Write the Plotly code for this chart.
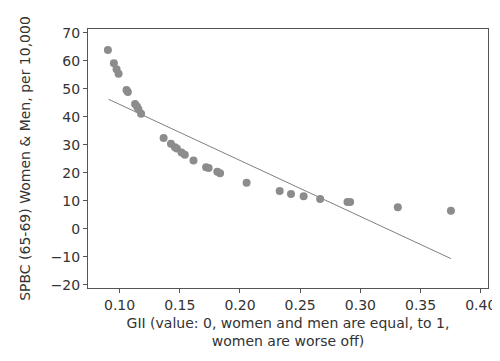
import plotly.graph_objects as go

gii = [0.0903, 0.0953, 0.0975, 0.0992, 0.1058, 0.1069, 0.1129, 0.1145, 0.1157, 0.1179,
       0.1366, 0.1427, 0.1460, 0.1476, 0.1515, 0.1542, 0.1614, 0.1719, 0.1740, 0.1812,
       0.1835, 0.2055, 0.2330, 0.2424, 0.2529, 0.2666, 0.2893, 0.2915, 0.3311, 0.3752]
spbc = [63.9, 59.2, 57.0, 55.4, 49.6, 48.9, 44.6, 43.7, 42.7, 41.1,
        32.5, 30.4, 29.2, 28.7, 27.3, 26.5, 24.4, 22.0, 21.8, 20.4,
        19.9, 16.5, 13.5, 12.5, 11.7, 10.7, 9.6, 9.6, 7.7, 6.5]

fit_x = [0.0909, 0.3752]
fit_y = [46.3, -10.6]

x_ticks = [0.10, 0.15, 0.20, 0.25, 0.30, 0.35, 0.40]
y_ticks = [-20, -10, 0, 10, 20, 30, 40, 50, 60, 70]

font = dict(family="DejaVu Sans, sans-serif", size=14, color="#333333")

fig = go.Figure()
fig.add_trace(go.Scatter(x=fit_x, y=fit_y, mode="lines",
                         line=dict(color="#7f7f7f", width=1), showlegend=False))
fig.add_trace(go.Scatter(x=gii, y=spbc, mode="markers",
                         marker=dict(color="#8c8c8c", size=8), showlegend=False))

axis_common = dict(showline=True, mirror=True, linecolor="#555555", linewidth=1,
                   ticks="outside", ticklen=4, tickcolor="#555555",
                   showgrid=False, zeroline=False, tickfont=font)

fig.update_layout(
    width=500, height=361,
    margin=dict(l=80, r=18, t=21, b=81),
    paper_bgcolor="white", plot_bgcolor="white",
    font=font,
    xaxis=dict(range=[0.0738, 0.406], tickvals=x_ticks,
               ticktext=[f"{v:.2f}" for v in x_ticks],
               title=dict(text="GII (value: 0, women and men are equal, to 1,<br>women are worse off)",
                          font=font, standoff=6),
               **axis_common),
    yaxis=dict(range=[-21.1, 71.4], tickvals=y_ticks,
               title=dict(text="SPBC (65-69) Women & Men, per 10,000", font=font, standoff=16),
               **axis_common),
)

fig.write_html("out.html")
